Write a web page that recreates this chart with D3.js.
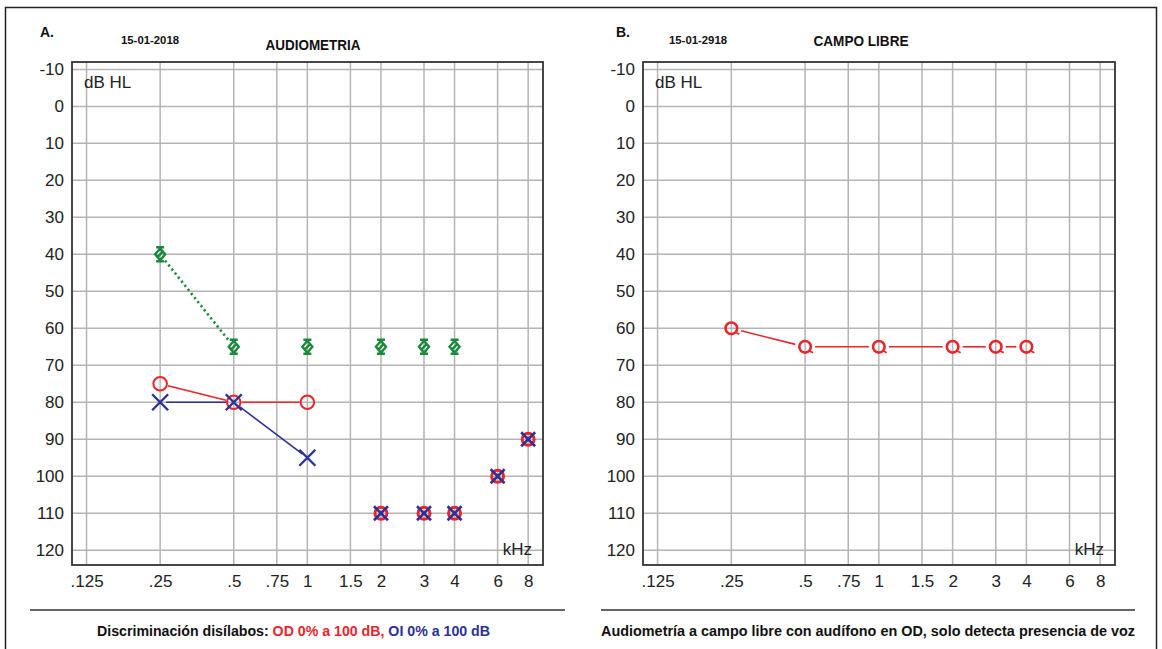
<!DOCTYPE html>
<html><head><meta charset="utf-8">
<script src="https://cdn.jsdelivr.net/npm/d3@7"></script>
<style>
html,body{margin:0;padding:0;background:#fff;}
svg{display:block;}
text{font-family:"Liberation Sans",Arial,sans-serif;}
</style></head>
<body>
<svg id="chart" width="1162" height="649"></svg>
<script>
// ---- data ----
const freqTicks = [0.125, 0.25, 0.5, 0.75, 1, 1.5, 2, 3, 4, 6, 8];
const freqLabels = [".125", ".25", ".5", ".75", "1", "1.5", "2", "3", "4", "6", "8"];
const dbTicks = [-10, 0, 10, 20, 30, 40, 50, 60, 70, 80, 90, 100, 110, 120];

// Panel A: audiometry
const odFreq = [0.25, 0.5, 1];
const odDb = [75, 80, 80];
const oiFreq = [0.25, 0.5, 1];
const oiDb = [80, 80, 95];
const boneFreq = [0.25, 0.5, 1, 2, 3, 4];
const boneDb = [40, 65, 65, 65, 65, 65];
const noRespFreq = [2, 3, 4, 6, 8];
const noRespDb = [110, 110, 110, 100, 90];

// Panel B: free field
const fieldFreq = [0.25, 0.5, 1, 2, 3, 4];
const fieldDb = [60, 65, 65, 65, 65, 65];

const RED = "#e8252b", BLUE = "#2d3194", GREEN = "#1a8a3a", GRID = "#b4b4b4";
const FONT = '"Liberation Sans",Arial,sans-serif';

const svg = d3.select("#chart");

// outer frame
svg.append("rect").attr("x", 5.5).attr("y", 7.5).attr("width", 1151).attr("height", 680)
  .attr("fill", "none").attr("stroke", "#222").attr("stroke-width", 1.5);

function panel(x0, x1) {
  const x = d3.scaleLog().base(2).domain([0.109, 9.2]).range([x0, x1]);
  const y = d3.scaleLinear().domain([-12, 124]).range([62, 565]);
  const g = svg.append("g");
  // grid
  g.selectAll(".vg").data(freqTicks).join("line")
    .attr("x1", d => x(d)).attr("x2", d => x(d)).attr("y1", 62).attr("y2", 565)
    .attr("stroke", GRID).attr("stroke-width", 1.5);
  g.selectAll(".hg").data(dbTicks).join("line")
    .attr("y1", d => y(d)).attr("y2", d => y(d)).attr("x1", x0).attr("x2", x1)
    .attr("stroke", GRID).attr("stroke-width", 1.5);
  g.append("rect").attr("x", x0).attr("y", 62).attr("width", x1 - x0).attr("height", 503)
    .attr("fill", "none").attr("stroke", "#333").attr("stroke-width", 1.8);
  // y axis labels
  const ya = d3.axisLeft(y).tickValues(dbTicks).tickSize(0).tickPadding(8)
    .tickFormat(d => String(d));
  const yg = g.append("g").attr("transform", `translate(${x0},0)`).call(ya);
  yg.attr("font-size", null).attr("font-family", null);
  yg.select(".domain").remove();
  yg.selectAll("text").style("font-size", "17px").style("font-family", FONT).attr("fill", "#222");
  // x axis labels
  const xa = d3.axisBottom(x).tickValues(freqTicks).tickSize(0).tickPadding(9)
    .tickFormat((d, i) => freqLabels[i]);
  const xg = g.append("g").attr("transform", `translate(0,566)`).call(xa);
  xg.attr("font-size", null).attr("font-family", null);
  xg.select(".domain").remove();
  xg.selectAll("text").style("font-size", "17px").style("font-family", FONT).attr("fill", "#222");
  g.append("text").attr("x", x0 + 12).attr("y", 88).style("font-size", "17px").attr("fill", "#222").text("dB HL");
  g.append("text").attr("x", x1 - 11).attr("y", 555).attr("text-anchor", "end")
    .style("font-size", "17px").attr("fill", "#222").text("kHz");
  return {x, y, g};
}

function shortSeg(p, q, d) {
  const dx = q[0] - p[0], dy = q[1] - p[1], L = Math.hypot(dx, dy);
  const ux = dx / L, uy = dy / L;
  return [[p[0] + ux * d, p[1] + uy * d], [q[0] - ux * d, q[1] - uy * d]];
}
function drawSegments(g, pts, d, color, w, dash) {
  for (let i = 0; i < pts.length - 1; i++) {
    const s = shortSeg(pts[i], pts[i + 1], d);
    g.append("line").attr("x1", s[0][0]).attr("y1", s[0][1]).attr("x2", s[1][0]).attr("y2", s[1][1])
      .attr("stroke", color).attr("stroke-width", w).attr("stroke-dasharray", dash || null);
  }
}

// ---------- Panel A ----------
const A = panel(72, 543);
{
  const {x, y, g} = A;
  // bone dotted line (first two)
  const bp = boneFreq.map((f, i) => [x(f), y(boneDb[i])]);
  drawSegments(g, bp.slice(0, 2), 8, GREEN, 2.6, "2.2,3");
  // OD red line
  const op = odFreq.map((f, i) => [x(f), y(odDb[i])]);
  drawSegments(g, op, 8, RED, 1.6);
  // OI blue line
  const ip = oiFreq.map((f, i) => [x(f), y(oiDb[i])]);
  drawSegments(g, ip, 6, BLUE, 1.6);
  // bone markers
  g.selectAll(".bone").data(boneFreq).join("path")
    .attr("transform", (d, i) => `translate(${x(d)},${y(boneDb[i])})`)
    .attr("d", "M-4,-7 L4,-7 M-4,7 L4,7 M0,-6 L5,0 L0,6 L-5,0 Z M-2.5,2.5 L2.5,-2.5")
    .attr("fill", "none").attr("stroke", GREEN).attr("stroke-width", 2.4);
  // OD circles
  g.selectAll(".od").data(odFreq).join("circle")
    .attr("cx", d => x(d)).attr("cy", (d, i) => y(odDb[i])).attr("r", 6.8)
    .attr("fill", "none").attr("stroke", RED).attr("stroke-width", 2);
  // OI crosses
  g.selectAll(".oi").data(oiFreq).join("path")
    .attr("transform", (d, i) => `translate(${x(d)},${y(oiDb[i])})`)
    .attr("d", "M-8,-8 L8,8 M-8,8 L8,-8")
    .attr("fill", "none").attr("stroke", BLUE).attr("stroke-width", 2.4);
  // no-response combined markers
  g.selectAll(".nrc").data(noRespFreq).join("circle")
    .attr("cx", d => x(d)).attr("cy", (d, i) => y(noRespDb[i])).attr("r", 6)
    .attr("fill", "none").attr("stroke", RED).attr("stroke-width", 3);
  g.selectAll(".nrx").data(noRespFreq).join("path")
    .attr("transform", (d, i) => `translate(${x(d)},${y(noRespDb[i])})`)
    .attr("d", "M-7,-7 L7,7 M-7,7 L7,-7")
    .attr("fill", "none").attr("stroke", BLUE).attr("stroke-width", 2.6);
}

// ---------- Panel B ----------
const B = panel(643, 1115);
{
  const {x, y, g} = B;
  const fp = fieldFreq.map((f, i) => [x(f), y(fieldDb[i])]);
  drawSegments(g, fp, 10, RED, 1.6);
  g.selectAll(".ff").data(fieldFreq).join("circle")
    .attr("cx", d => x(d)).attr("cy", (d, i) => y(fieldDb[i])).attr("r", 5.8)
    .attr("fill", "none").attr("stroke", RED).attr("stroke-width", 2.6);
  g.selectAll(".fft").data(fieldFreq).join("path")
    .attr("transform", (d, i) => `translate(${x(d)},${y(fieldDb[i])})`)
    .attr("d", "M4,4 L8,6")
    .attr("fill", "none").attr("stroke", RED).attr("stroke-width", 1.8);
}

// ---------- headers ----------
function txt(x, y, s, size, opts = {}) {
  const t = svg.append("text").attr("x", x).attr("y", y).style("font-size", size + "px")
    .attr("font-weight", "bold").attr("fill", "#111").text(s);
  if (opts.anchor) t.attr("text-anchor", opts.anchor);
  if (opts.len) t.attr("textLength", opts.len).attr("lengthAdjust", "spacingAndGlyphs");
  return t;
}
txt(40, 37, "A.", 14);
txt(121, 44, "15-01-2018", 11, {len: 58});
txt(313, 50, "AUDIOMETRIA", 14, {anchor: "middle", len: 95});
txt(616, 37, "B.", 14);
txt(669, 44, "15-01-2918", 11, {len: 58});
txt(861, 46, "CAMPO LIBRE", 14, {anchor: "middle", len: 95});

// separators
svg.append("line").attr("x1", 30).attr("x2", 565).attr("y1", 610).attr("y2", 610)
  .attr("stroke", "#333").attr("stroke-width", 1.5);
svg.append("line").attr("x1", 601).attr("x2", 1135).attr("y1", 610).attr("y2", 610)
  .attr("stroke", "#333").attr("stroke-width", 1.5);

// footers
{
  const t = svg.append("text").attr("x", 97).attr("y", 636).style("font-size", "14.5px")
    .attr("font-weight", "bold").attr("textLength", 393).attr("lengthAdjust", "spacingAndGlyphs");
  t.append("tspan").attr("fill", "#111").text("Discriminación disílabos:  ");
  t.append("tspan").attr("fill", RED).text("OD 0% a 100 dB,");
  t.append("tspan").attr("fill", BLUE).text(" OI 0% a 100 dB");
}
svg.append("text").attr("x", 601).attr("y", 636).style("font-size", "14.5px").attr("font-weight", "bold")
  .attr("fill", "#111").attr("textLength", 534).attr("lengthAdjust", "spacingAndGlyphs")
  .text("Audiometría a campo libre con audífono en OD, solo detecta presencia de voz");
</script>
</body></html>
